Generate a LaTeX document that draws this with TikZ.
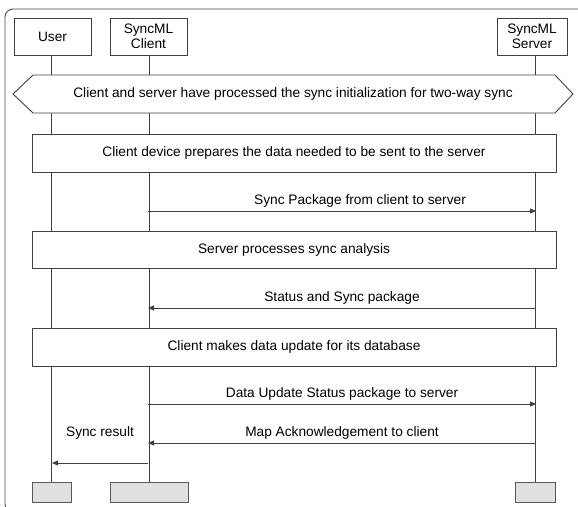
\documentclass[tikz,border=0pt]{standalone}
\usepackage{fontspec}
\setmainfont{Liberation Sans}
\usetikzlibrary{arrows.meta}

\begin{document}
\begin{tikzpicture}[x=1pt, y=-1pt, line width=0.9pt, actor/.style={draw=black!75, fill=white, minimum width=77pt, minimum height=37pt, align=center, inner sep=0pt, font=\fontsize{13.7}{15}\selectfont}, stepbox/.style={draw=black!75, fill=white, minimum width=524pt, minimum height=38pt, inner sep=0pt, font=\fontsize{13.7}{15}\selectfont}, endbox/.style={draw=black!65, fill=black!12, minimum height=20pt, inner sep=0pt}, life/.style={black!75}, msg/.style={-{Triangle[length=6pt,width=5pt]}, black!75}, lbl/.style={font=\fontsize{13.7}{15}\selectfont, text=black, anchor=south, inner sep=3pt}]
\useasboundingbox (0,0) rectangle (578,506);
\begin{scope} \clip (0,0) rectangle (578,506); \draw[black!70, rounded corners=8pt] (5,9) rectangle (600,512); \end{scope}
\node[actor] (user) at (52.5,36.5) {User}; \node[actor] (client) at (148.5,36.5) {SyncML\\Client}; \node[actor, minimum width=70pt] (server) at (532,36.5) {SyncML\\Server};
\node[endbox, minimum width=39pt] (userend) at (51.5,492) {}; \node[endbox, minimum width=78pt] (clientend) at (149,492) {}; \node[endbox, minimum width=40pt] (serverend) at (535.5,492) {};
\draw[life] (user.south -| userend) -- (userend.north); \draw[life] (client.south -| clientend) -- (clientend.north); \draw[life] (server.south -| serverend) -- (serverend.north);
% sync initialization banner
\draw[black!75, fill=white] (13,94) -- (33,75) -- (555,75) -- (573,94) -- (555,113) -- (33,113) -- cycle; \node[font=\fontsize{13.7}{15}\selectfont] (init) at (293,94) {Client and server have processed the sync initialization for two-way sync};
\node[stepbox] (prepare) at (294,153) {Client device prepares the data needed to be sent to the server}; \node[stepbox, minimum height=37pt] (analysis) at (294,249.5) {Server processes sync analysis}; \node[stepbox] (update) at (294,347) {Client makes data update for its database};
\coordinate (c1) at (148,211); \coordinate (s1) at (536,211); \coordinate (s2) at (536,308); \coordinate (c2) at (148,308); \coordinate (c3) at (148,404); \coordinate (s3) at (536,404); \coordinate (s4) at (536,443); \coordinate (c4) at (148,443); \coordinate (c5) at (148,463); \coordinate (u5) at (52,463);
\draw[msg] (c1) -- node[lbl, xshift=18pt] {Sync Package from client to server} (s1); \draw[msg] (s2) -- node[lbl] {Status and Sync package} (c2); \draw[msg] (c3) -- node[lbl] {Data Update Status package to server} (s3); \draw[msg] (s4) -- node[lbl] {Map Acknowledgement to client} (c4); \draw[msg] (c5) -- node[lbl, above=20pt] {Sync result} (u5);
\end{tikzpicture}
\end{document}
